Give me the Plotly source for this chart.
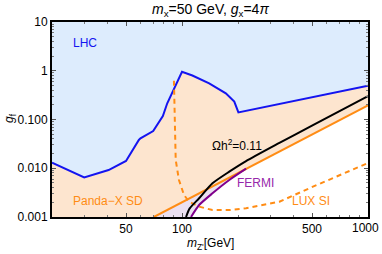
import plotly.graph_objects as go

# LHC exclusion boundary
lhc_x = [20, 29.8, 40.3, 50, 58.6, 59.8, 70, 78.9, 83.3, 91.7, 100, 113.7, 140, 172, 191, 201, 1000]
lhc_y = [0.013, 0.0065, 0.0092, 0.0141, 0.038, 0.041, 0.058, 0.118, 0.215, 0.47, 0.95, 0.80, 0.553, 0.345, 0.233, 0.14, 0.49]

# Panda-X SD (solid orange)
panda_x = [70.6, 100, 150, 221, 300, 500, 1000]
panda_y = [0.001, 0.0020, 0.0045, 0.0098, 0.018, 0.050, 0.195]

# LUX SI (dashed orange)
lux_x = [90.5, 91.7, 92.5, 96.3, 102.5, 109.1, 123.6, 145.8, 179.5, 221, 334, 506, 940, 1000]
lux_y = [0.625, 0.0977, 0.0148, 0.00574, 0.00283, 0.00206, 0.00163, 0.00139, 0.00139, 0.00151, 0.00206, 0.00419, 0.0117, 0.0128]

# Relic density Omega h^2 = 0.11
relic_x = [105.1, 110, 123.6, 145.8, 179.5, 221, 334, 500, 1000]
relic_y = [0.001, 0.0015, 0.00242, 0.00491, 0.0085, 0.014, 0.033, 0.075, 0.30]

# FERMI
fermi_x = [111.8, 123.6, 145.8, 179.5, 221]
fermi_y = [0.001, 0.00176, 0.00306, 0.00574, 0.0098]

x_ticks = [50, 100, 500, 1000]
x_ticktext = ["50", "100", "500", ""]
x_last_label = "1000"
y_ticks = [0.001, 0.01, 0.1, 1, 10]
y_ticktext = ["0.001", "0.010", "0.100", "1", "10"]
x_minor = [20, 30, 40, 60, 70, 80, 90, 200, 300, 400, 600, 700, 800, 900]
y_minor = [v * m for v in [0.001, 0.01, 0.1, 1] for m in range(2, 10)]

XMIN, XMAX, YMIN, YMAX = 20, 1000, 0.001, 10

BLUE_FILL = "rgb(221,236,253)"
PEACH_FILL = "rgb(253,229,207)"
LAV_FILL = "rgb(234,224,241)"
ORANGE = "rgb(255,140,20)"
PURPLE = "rgb(128,0,140)"
BLUE = "rgb(20,20,240)"

fig = go.Figure()

fig.add_trace(go.Scatter(x=lhc_x + [XMAX, XMIN], y=lhc_y + [YMAX, YMAX],
                         fill="toself", fillcolor=BLUE_FILL, line=dict(width=0),
                         mode="lines", hoverinfo="skip", showlegend=False))
fig.add_trace(go.Scatter(x=[XMIN] + lhc_x + panda_x[::-1] + [XMIN],
                         y=[YMIN] + lhc_y + panda_y[::-1] + [YMIN],
                         fill="toself", fillcolor=PEACH_FILL, line=dict(width=0),
                         mode="lines", hoverinfo="skip", showlegend=False))
fig.add_trace(go.Scatter(x=panda_x[:4] + fermi_x[::-1],
                         y=panda_y[:4] + fermi_y[::-1],
                         fill="toself", fillcolor=LAV_FILL, line=dict(width=0),
                         mode="lines", hoverinfo="skip", showlegend=False))

fig.add_trace(go.Scatter(x=lhc_x, y=lhc_y, mode="lines", line=dict(color=BLUE, width=2), showlegend=False))
fig.add_trace(go.Scatter(x=lux_x, y=lux_y, mode="lines", line=dict(color=ORANGE, width=2, dash="5px,4px"), showlegend=False))
fig.add_trace(go.Scatter(x=panda_x, y=panda_y, mode="lines", line=dict(color=ORANGE, width=2), showlegend=False))
fig.add_trace(go.Scatter(x=fermi_x, y=fermi_y, mode="lines", line=dict(color=PURPLE, width=2, shape="spline", smoothing=0.6), showlegend=False))
fig.add_trace(go.Scatter(x=relic_x, y=relic_y, mode="lines", line=dict(color="black", width=2, shape="spline", smoothing=0.6), showlegend=False))

font = "Liberation Sans, Arial, sans-serif"
axis_common = dict(showgrid=False, zeroline=False, showline=True, linewidth=2, linecolor="black",
                   mirror="ticks", ticks="inside", ticklen=4, tickwidth=1, tickcolor="#555",
                   tickfont=dict(size=12, color="black", family=font))

fig.update_xaxes(type="log", range=[1.30103, 3], tickvals=x_ticks, ticktext=x_ticktext,
                 minor=dict(ticks="inside", tickvals=x_minor, ticklen=2, tickcolor="#777"),
                 **axis_common)
fig.update_yaxes(type="log", range=[-3, 1], tickvals=y_ticks, ticktext=y_ticktext,
                 minor=dict(ticks="inside", tickvals=y_minor, ticklen=2, tickcolor="#777"),
                 **axis_common)

pl, pr, pt, pb = 52, 368, 22, 217


def px2paper(px, py):
    return (px - pl) / (pr - pl), (pb - py) / (pb - pt)


anns = [
    dict(x=85, y=43, text="LHC", color=BLUE),
    dict(x=108, y=201, text="Panda−X SD", color=ORANGE),
    dict(x=311, y=201, text="LUX SI", color=ORANGE),
    dict(x=255, y=183, text="FERMI", color="rgb(150,40,170)"),
    dict(x=237, y=145, text="Ωh<sup>2</sup>=0.11", color="black"),
]
for a in anns:
    ax, ay = px2paper(a["x"], a["y"])
    fig.add_annotation(x=ax, y=ay, xref="paper", yref="paper",
                       text=a["text"], showarrow=False, xanchor="center", yanchor="middle",
                       font=dict(size=12, color=a["color"], family=font))

# last x tick label, right-aligned inside the page
fig.add_annotation(x=1, y=0, xref="paper", yref="paper", text=x_last_label, showarrow=False,
                   xanchor="right", yanchor="top", xshift=13, yshift=-2,
                   font=dict(size=12, color="black", family=font))

fig.update_layout(
    width=382, height=254,
    margin=dict(l=52, r=14, t=22, b=37, autoexpand=False),
    paper_bgcolor="white", plot_bgcolor="white",
    font=dict(family=font, size=12, color="black"),
)

tx, ty = px2paper(210, 10)
fig.add_annotation(x=tx, y=ty, xref="paper", yref="paper",
                   text="<i>m</i><sub>x</sub>=50 GeV, <i>g</i><sub>x</sub>=4<i>π</i>",
                   showarrow=False, xanchor="center", yanchor="middle",
                   font=dict(size=14, color="black", family=font))
tx, ty = px2paper(210, 244)
fig.add_annotation(x=tx, y=ty, xref="paper", yref="paper",
                   text="<i>m</i><sub>Z'</sub>[GeV]", showarrow=False, xanchor="center", yanchor="middle",
                   font=dict(size=12, color="black", family=font))
tx, ty = px2paper(10, 118)
fig.add_annotation(x=tx, y=ty, xref="paper", yref="paper",
                   text="<i>g</i><sub>f</sub>", showarrow=False, textangle=-90,
                   xanchor="center", yanchor="middle",
                   font=dict(size=12, color="black", family=font))

fig.write_html("out.html", config={"displayModeBar": False},
               post_script="document.body.style.margin='0px';document.body.style.overflow='hidden';")
